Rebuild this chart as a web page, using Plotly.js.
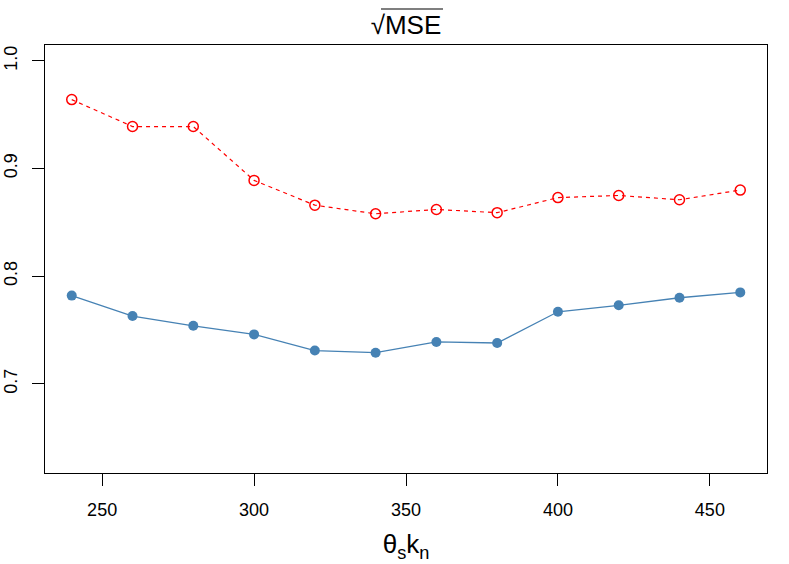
<!DOCTYPE html>
<html>
<head>
<meta charset="utf-8">
<script src="https://cdn.plot.ly/plotly-3.0.1.min.js"></script>
<style>
  html, body { margin: 0; padding: 0; background: #fff; }
  #plot { width: 789px; height: 564px; }
</style>
</head>
<body>
<div id="plot"></div>
<script>
// theta_s * k_n values on the x axis
const thetaK = [240, 260, 280, 300, 320, 340, 360, 380, 400, 420, 440, 460];

// sqrt(MSE), two methods
const mseRed = [0.964, 0.939, 0.939, 0.889, 0.866, 0.858, 0.862, 0.859, 0.873, 0.875, 0.871, 0.880];
const mseBlue = [0.782, 0.763, 0.754, 0.746, 0.731, 0.729, 0.739, 0.738, 0.767, 0.773, 0.780, 0.785];

const xTicks = [250, 300, 350, 400, 450];
const yTicks = [0.7, 0.8, 0.9, 1.0];
const yTickText = ['0.7', '0.8', '0.9', '1.0'];

const font = 'Liberation Sans, Arial, Helvetica, sans-serif';

const makePlot = () => {
  const div = document.getElementById('plot');

  const data = [{
    type: 'scatter',
    mode: 'lines+markers',
    x: thetaK,
    y: mseRed,
    line: { color: '#ff0000', width: 1.2, dash: '4px,4px' },
    marker: { symbol: 'circle-open', size: 10, color: '#ff0000', line: { width: 1.5, color: '#ff0000' } },
    hoverinfo: 'x+y',
  }, {
    type: 'scatter',
    mode: 'lines+markers',
    x: thetaK,
    y: mseBlue,
    line: { color: '#4682b4', width: 1.3 },
    marker: { symbol: 'circle', size: 10, color: '#4682b4' },
    hoverinfo: 'x+y',
  }];

  const layout = {
    width: 789,
    height: 564,
    showlegend: false,
    paper_bgcolor: '#fff',
    plot_bgcolor: '#fff',
    margin: { l: 45, r: 22, t: 45, b: 91 },
    font: { family: font, size: 18, color: '#000' },
    title: {
      text: '√MSE',
      font: { family: font, size: 26, color: '#000' },
      x: 0.5,
      xanchor: 'center',
      xref: 'paper',
      y: 0.955,
      yanchor: 'middle',
    },
    xaxis: {
      range: [231.2, 468.8],
      tickmode: 'array',
      tickvals: xTicks,
      ticks: 'outside',
      ticklen: 12,
      tickwidth: 1,
      tickcolor: '#000',
      ticklabelstandoff: 8,
      showgrid: false,
      zeroline: false,
      showline: true,
      linecolor: '#000',
      linewidth: 1,
      mirror: true,
      tickfont: { size: 18 },
      title: {
        text: 'θ<sub>s</sub>k<sub>n</sub>',
        font: { family: font, size: 26 },
        standoff: 16,
      },
    },
    yaxis: {
      range: [0.6173, 1.0147],
      tickmode: 'array',
      tickvals: yTicks,
      ticktext: yTickText,
      tickangle: -90,
      ticks: 'outside',
      ticklen: 12,
      tickwidth: 1,
      tickcolor: '#000',
      ticklabelstandoff: 8,
      showgrid: false,
      zeroline: false,
      showline: true,
      linecolor: '#000',
      linewidth: 1,
      mirror: true,
      tickfont: { size: 18 },
    },
    shapes: [{
      // overline of the square root in the title
      type: 'line',
      xref: 'paper',
      yref: 'paper',
      x0: (381 - 45) / 722,
      x1: (443 - 45) / 722,
      y0: (473 - 9) / 428,
      y1: (473 - 9) / 428,
      line: { color: '#000', width: 1.2 },
    }],
  };

  Plotly.newPlot(div, data, layout, { displayModeBar: false, staticPlot: true });
};

makePlot();
</script>
</body>
</html>
